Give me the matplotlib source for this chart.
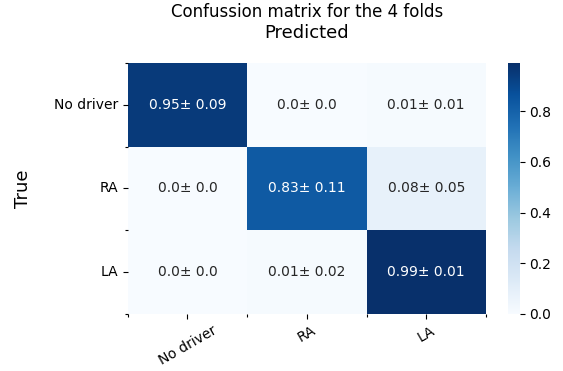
import numpy as np
import matplotlib
matplotlib.use("Agg")
import matplotlib.pyplot as plt
import seaborn as sns

classes = ["No driver", "RA", "LA"]
mean_vals = [[0.95, 0.0, 0.01],
             [0.0, 0.83, 0.08],
             [0.0, 0.01, 0.99]]
std_vals = [[0.09, 0.0, 0.01],
            [0.0, 0.11, 0.05],
            [0.0, 0.02, 0.01]]

mean_arr = np.array(mean_vals)
std_arr = np.array(std_vals)
labels = np.array([[f"{m}\u00b1 {s}" for m, s in zip(mr, sr)]
                   for mr, sr in zip(mean_vals, std_vals)])

fig = plt.figure(figsize=(5.63, 3.71), dpi=100)
ax = fig.add_axes([0.227, 0.154, 0.636, 0.676])
cax = fig.add_axes([0.902, 0.154, 0.021, 0.676])

sns.heatmap(mean_arr, annot=labels, fmt="", cmap="Blues", ax=ax, cbar_ax=cax,
            xticklabels=classes, yticklabels=classes, annot_kws={"fontsize": 10})

ax.set_xticks([0, 1, 2, 3], minor=True)
ax.set_yticks([0, 1, 2, 3], minor=True)
ax.tick_params(which="minor", length=2, width=0.8)
ax.tick_params(which="major", length=3.5, labelsize=10)
plt.setp(ax.get_xticklabels(), rotation=30)
plt.setp(ax.get_yticklabels(), rotation=0)

ax.xaxis.set_label_position("top")
ax.set_xlabel("Predicted", fontsize=13, labelpad=18)
ax.set_ylabel("True", fontsize=13, labelpad=16)
ax.set_title("Confussion matrix for the 4 folds", fontsize=12, y=1.183, pad=0)
cax.tick_params(labelsize=10)

fig.savefig("out.png", dpi=100)
